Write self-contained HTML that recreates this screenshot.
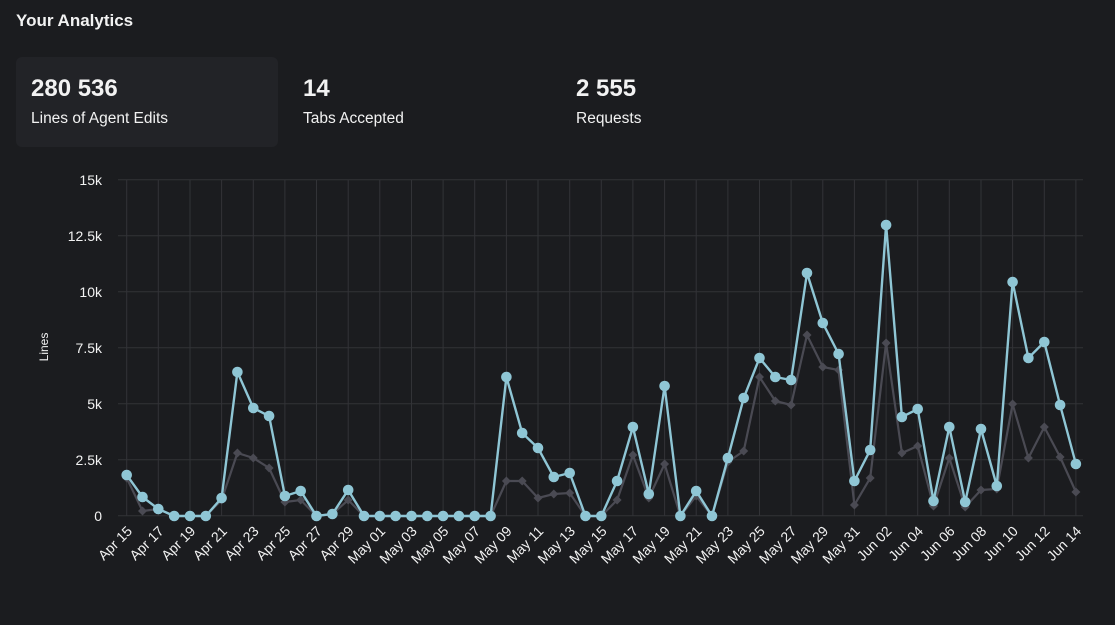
<!DOCTYPE html>
<html><head><meta charset="utf-8"><style>
body{margin:0;width:1115px;height:625px;background:#1b1c1f;font-family:"Liberation Sans",sans-serif;color:#f2f2f2;overflow:hidden;position:relative}
.t{position:absolute;left:16px;top:11px;font-size:17px;font-weight:bold}
.card{position:absolute;left:16px;top:57px;width:262px;height:90px;background:#222327;border-radius:6px}
.n{position:absolute;font-size:24px;font-weight:bold;top:75px}
.l{position:absolute;font-size:15.5px;top:110px}
svg{position:absolute;left:0;top:0}
</style></head><body>
<div class="t">Your Analytics</div>
<div class="card"></div>
<div class="n" style="left:31px">280 536</div><div class="l" style="left:31px">Lines of Agent Edits</div>
<div class="n" style="left:303px">14</div><div class="l" style="left:303px">Tabs Accepted</div>
<div class="n" style="left:576px">2 555</div><div class="l" style="left:576px">Requests</div>
<svg width="1115" height="625">
<defs>
<marker id="c" markerUnits="userSpaceOnUse" markerWidth="14" markerHeight="14" refX="7" refY="7"><circle cx="7" cy="7" r="5.3" fill="#8fc6d5"/></marker>
<marker id="d" markerUnits="userSpaceOnUse" markerWidth="12" markerHeight="12" refX="6" refY="6"><path d="M6 1.5L10.5 6L6 10.5L1.5 6Z" fill="#4a4a53"/></marker>
</defs>
<g stroke="#323337" stroke-width="1">
<path d="M118 515.7H1083M118 459.7H1083M118 403.7H1083M118 347.7H1083M118 291.7H1083M118 235.7H1083M118 179.7H1083"/>
<path d="M126.7 179.7V515.7M158.3 179.7V515.7M190 179.7V515.7M221.6 179.7V515.7M253.3 179.7V515.7M284.9 179.7V515.7M316.5 179.7V515.7M348.2 179.7V515.7M379.8 179.7V515.7M411.5 179.7V515.7M443.1 179.7V515.7M474.7 179.7V515.7M506.4 179.7V515.7M538 179.7V515.7M569.7 179.7V515.7M601.3 179.7V515.7M632.9 179.7V515.7M664.6 179.7V515.7M696.2 179.7V515.7M727.9 179.7V515.7M759.5 179.7V515.7M791.1 179.7V515.7M822.8 179.7V515.7M854.4 179.7V515.7M886.1 179.7V515.7M917.7 179.7V515.7M949.3 179.7V515.7M981 179.7V515.7M1012.6 179.7V515.7M1044.3 179.7V515.7M1075.9 179.7V515.7"/>
</g>
<g font-size="14" fill="#f2f2f2" text-anchor="end">
<text x="102" y="521">0</text><text x="102" y="465">2.5k</text><text x="102" y="409">5k</text><text x="102" y="353">7.5k</text><text x="102" y="297">10k</text><text x="102" y="241">12.5k</text><text x="102" y="185">15k</text>
</g>
<text transform="translate(48,347) rotate(-90)" font-size="12" fill="#f2f2f2" text-anchor="middle">Lines</text>
<polyline fill="none" stroke="#4a4a53" stroke-width="2.2" marker-start="url(#d)" marker-mid="url(#d)" marker-end="url(#d)" points="126.7,478 142.5,511 158.3,509 174.2,516 190,516 205.8,516 221.6,500 237.4,453 253.3,458 269.1,468 284.9,502 300.7,500 316.5,516 332.4,514 348.2,500 364,516 379.8,516 395.6,516 411.5,516 427.3,516 443.1,516 458.9,516 474.7,516 490.6,516 506.4,481 522.2,481 538,498 553.8,494 569.7,493 585.5,516 601.3,516 617.1,500 632.9,455 648.8,498 664.6,464 680.4,516 696.2,496 712,516 727.9,462 743.7,451 759.5,377 775.3,401 791.1,405 807,335 822.8,367 838.6,370 854.4,505 870.2,478 886.1,343 901.9,453 917.7,446 933.5,506 949.3,458 965.2,507 981,490 996.8,489 1012.6,404 1028.4,458 1044.3,427 1060.1,457 1075.9,492"/>
<polyline fill="none" stroke="#8fc6d5" stroke-width="2.4" marker-start="url(#c)" marker-mid="url(#c)" marker-end="url(#c)" points="126.7,475 142.5,497 158.3,509 174.2,516 190,516 205.8,516 221.6,498 237.4,372 253.3,408 269.1,416 284.9,496 300.7,491 316.5,516 332.4,514 348.2,490 364,516 379.8,516 395.6,516 411.5,516 427.3,516 443.1,516 458.9,516 474.7,516 490.6,516 506.4,377 522.2,433 538,448 553.8,477 569.7,473 585.5,516 601.3,516 617.1,481 632.9,427 648.8,494 664.6,386 680.4,516 696.2,491 712,516 727.9,458 743.7,398 759.5,358 775.3,377 791.1,380 807,273 822.8,323 838.6,354 854.4,481 870.2,450 886.1,225 901.9,417 917.7,409 933.5,501 949.3,427 965.2,502 981,429 996.8,486 1012.6,282 1028.4,358 1044.3,342 1060.1,405 1075.9,464"/>
<g font-size="14" fill="#f2f2f2" text-anchor="end">
<text transform="translate(133,532) rotate(-45)">Apr 15</text>
<text transform="translate(164.6,532) rotate(-45)">Apr 17</text>
<text transform="translate(196.3,532) rotate(-45)">Apr 19</text>
<text transform="translate(227.9,532) rotate(-45)">Apr 21</text>
<text transform="translate(259.6,532) rotate(-45)">Apr 23</text>
<text transform="translate(291.2,532) rotate(-45)">Apr 25</text>
<text transform="translate(322.8,532) rotate(-45)">Apr 27</text>
<text transform="translate(354.5,532) rotate(-45)">Apr 29</text>
<text transform="translate(386.1,532) rotate(-45)">May 01</text>
<text transform="translate(417.8,532) rotate(-45)">May 03</text>
<text transform="translate(449.4,532) rotate(-45)">May 05</text>
<text transform="translate(481,532) rotate(-45)">May 07</text>
<text transform="translate(512.7,532) rotate(-45)">May 09</text>
<text transform="translate(544.3,532) rotate(-45)">May 11</text>
<text transform="translate(576,532) rotate(-45)">May 13</text>
<text transform="translate(607.6,532) rotate(-45)">May 15</text>
<text transform="translate(639.2,532) rotate(-45)">May 17</text>
<text transform="translate(670.9,532) rotate(-45)">May 19</text>
<text transform="translate(702.5,532) rotate(-45)">May 21</text>
<text transform="translate(734.2,532) rotate(-45)">May 23</text>
<text transform="translate(765.8,532) rotate(-45)">May 25</text>
<text transform="translate(797.4,532) rotate(-45)">May 27</text>
<text transform="translate(829.1,532) rotate(-45)">May 29</text>
<text transform="translate(860.7,532) rotate(-45)">May 31</text>
<text transform="translate(892.4,532) rotate(-45)">Jun 02</text>
<text transform="translate(924,532) rotate(-45)">Jun 04</text>
<text transform="translate(955.6,532) rotate(-45)">Jun 06</text>
<text transform="translate(987.3,532) rotate(-45)">Jun 08</text>
<text transform="translate(1018.9,532) rotate(-45)">Jun 10</text>
<text transform="translate(1050.6,532) rotate(-45)">Jun 12</text>
<text transform="translate(1082.2,532) rotate(-45)">Jun 14</text>
</g>
</svg>
</body></html>
